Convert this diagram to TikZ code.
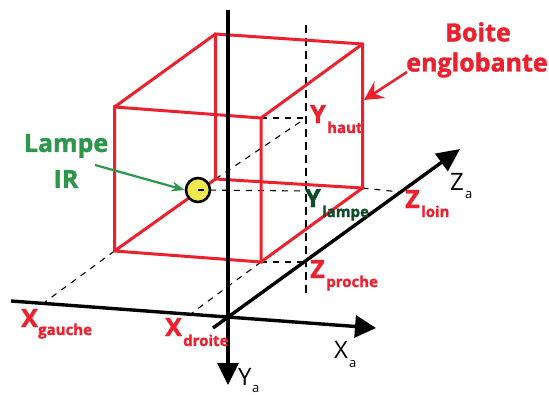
\documentclass[tikz,border=0pt]{standalone}
\usepackage{fontspec}
\setmainfont{Open Sans}[BoldFeatures={FakeBold=1.6}]
\usetikzlibrary{arrows.meta}
\definecolor{boxred}{RGB}{237,32,46}
\definecolor{lampgreen}{RGB}{45,150,75}
\definecolor{darkgreen}{RGB}{12,75,40}
\definecolor{lampyellow}{RGB}{238,232,80}
\tikzset{
  x=1pt,y=-1pt,
  boxedge/.style={draw=boxred,line width=3pt,line join=miter},
  axisline/.style={draw=black,line width=3.4pt},
  guide/.style={draw=black,line width=1.1pt,dash pattern=on 6pt off 6pt},
  guidev/.style={draw=black,line width=1.4pt,dash pattern=on 8pt off 5pt},
  bigtitle/.style={font=\bfseries\fontsize{25}{27}\selectfont,inner sep=0pt},
  mainletter/.style={font=\bfseries\fontsize{25}{27}\selectfont,text=boxred,inner sep=0pt,anchor=base west},
  sublabel/.style={font=\bfseries\fontsize{15}{17}\selectfont,text=boxred,inner sep=0pt,anchor=base west},
  axislabel/.style={font=\fontsize{24}{26}\selectfont,inner sep=0pt,anchor=base west},
  axissub/.style={font=\fontsize{13}{15}\selectfont,inner sep=0pt,anchor=base west},
}
\begin{document}
\begin{tikzpicture}
\useasboundingbox (0,0) rectangle (549,394);
% cube corners
\coordinate (ftl) at (114.5,107);
\coordinate (ftr) at (261,118);
\coordinate (fbl) at (114.5,251);
\coordinate (fbr) at (261,262);
\coordinate (btl) at (215.5,34);
\coordinate (btr) at (362.5,44);
\coordinate (bbl) at (215.5,179);
\coordinate (bbr) at (362.5,188);
% axes ends
\coordinate (xs) at (11,301);
\coordinate (xe) at (376,328);
\coordinate (ys) at (228,10);
\coordinate (ye) at (228,385);
\coordinate (zs) at (213,328);
\coordinate (ze) at (460,149);
% guide ends
\coordinate (vt) at (306,25);
\coordinate (vb) at (306,295);
\coordinate (yh) at (306,118);
\coordinate (zp) at (306,262);
\coordinate (xg) at (45,302);
\coordinate (xd) at (192,313);
\coordinate (zl) at (400,192);
\coordinate (lampc) at (198,190);
\coordinate (ylamp) at (306,191);
% guides
\draw[guidev] (vt) -- (vb);
\draw[guide] (ftr) -- (yh);
\draw[guide] (bbl) -- (yh);
\draw[guide] (lampc) -- (ylamp);
\draw[guide] (bbr) -- (zl);
\draw[guide] (fbl) -- (xg);
\draw[guide] (fbr) -- (xd);
\draw[guide] (fbr) -- (zp);
% cube
\draw[boxedge] (ftl) -- (ftr) -- (fbr) -- (fbl) -- cycle;
\draw[boxedge] (btl) -- (btr) -- (bbr) -- (bbl) -- cycle;
\draw[boxedge] (ftl) -- (btl);
\draw[boxedge] (ftr) -- (btr);
\draw[boxedge] (fbr) -- (bbr);
\draw[boxedge] (fbl) -- (bbl);
% axes
\draw[axisline,-{Triangle[length=21pt,width=22pt]}] (xs) -- (xe);
\draw[axisline,-{Triangle[length=22pt,width=21pt]}] (ys) -- (ye);
\draw[axisline,-{Triangle[length=23pt,width=21pt]}] (zs) -- (ze);
% lamp
\node[circle,draw=black,fill=lampyellow,line width=2.6pt,minimum size=24pt,inner sep=0pt] (lamp) at (198,190) {};
\draw[guide] (lamp.center) -- (lamp.east);
% labels
\node[bigtitle,text=lampgreen] (l1) at (66,146) {Lampe};
\node[bigtitle,text=lampgreen] (l2) at (66,179) {IR};
\node[bigtitle,text=boxred] (b1) at (478,32) {Boite};
\node[bigtitle,text=boxred] (b2) at (477,65) {englobante};
\draw[draw=lampgreen,line width=2.2pt,-{Stealth[length=13pt,width=10pt,inset=4pt]}] (95,165) -- (lamp.west);
\draw[draw=boxred,line width=2.6pt,-{Stealth[length=19pt,width=20pt,inset=7pt]}] (407,72) -- (364,100);
\node[mainletter] (yh1) at (310,123) {Y};
\node[sublabel] (yh2) at (327,133) {haut};
\node[mainletter,text=darkgreen] (yl1) at (305,207) {Y};
\node[sublabel,text=darkgreen] (yl2) at (322,217) {lampe};
\node[mainletter] (zl1) at (405,208) {Z};
\node[sublabel] (zl2) at (421,217) {loin};
\node[mainletter] (zp1) at (310,278) {Z};
\node[sublabel] (zp2) at (326,287) {proche};
\node[mainletter] (xg1) at (21,327) {X};
\node[sublabel] (xg2) at (38,335) {gauche};
\node[mainletter] (xd1) at (165,336) {X};
\node[sublabel] (xd2) at (183,346) {droite};
\node[axislabel] (xa1) at (334,358) {X};
\node[axissub] (xa2) at (349,367) {a};
\node[axislabel] (ya1) at (238,385) {Y};
\node[axissub] (ya2) at (252,392) {a};
\node[axislabel] (za1) at (450,190) {Z};
\node[axissub] (za2) at (465,198) {a};
\end{tikzpicture}
\end{document}
